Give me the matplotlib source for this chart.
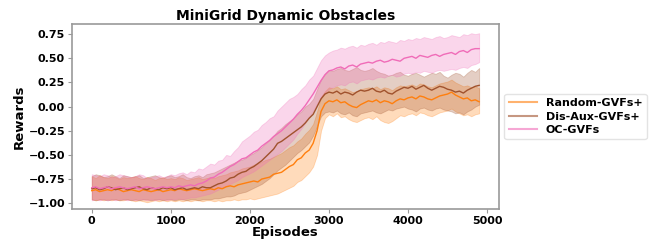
import numpy as np
import matplotlib
matplotlib.use("Agg")
import matplotlib.pyplot as plt
from matplotlib.lines import Line2D

episodes = list(range(0, 4901, 50))

rand_mean = [-0.87,-0.86,-0.88,-0.87,-0.86,-0.87,-0.85,-0.86,-0.88,-0.87,
             -0.86,-0.87,-0.88,-0.86,-0.87,-0.88,-0.87,-0.86,-0.88,-0.87,
             -0.86,-0.87,-0.85,-0.86,-0.87,-0.86,-0.85,-0.86,-0.87,-0.86,
             -0.85,-0.86,-0.84,-0.85,-0.83,-0.82,-0.83,-0.81,-0.80,-0.79,
             -0.78,-0.77,-0.78,-0.75,-0.74,-0.73,-0.70,-0.69,-0.68,-0.65,
             -0.62,-0.60,-0.55,-0.53,-0.48,-0.45,-0.38,-0.25,-0.05,0.03,
             0.06,0.05,0.07,0.04,0.05,0.02,0.00,-0.01,0.02,0.04,
             0.06,0.05,0.07,0.04,0.06,0.05,0.03,0.06,0.08,0.07,
             0.09,0.10,0.08,0.11,0.10,0.08,0.07,0.09,0.11,0.12,
             0.13,0.15,0.12,0.10,0.08,0.09,0.06,0.07,0.05]
rand_upper = [-0.72,-0.74,-0.71,-0.73,-0.74,-0.72,-0.73,-0.75,-0.73,-0.74,
              -0.73,-0.72,-0.74,-0.75,-0.73,-0.74,-0.76,-0.74,-0.73,-0.75,
              -0.74,-0.75,-0.73,-0.74,-0.76,-0.75,-0.74,-0.73,-0.75,-0.74,
              -0.73,-0.74,-0.72,-0.71,-0.70,-0.68,-0.67,-0.66,-0.64,-0.63,
              -0.62,-0.60,-0.59,-0.57,-0.55,-0.54,-0.52,-0.50,-0.48,-0.45,
              -0.42,-0.40,-0.36,-0.33,-0.28,-0.24,-0.18,-0.05,0.10,0.16,
              0.20,0.19,0.21,0.18,0.19,0.17,0.15,0.16,0.18,0.19,
              0.20,0.19,0.21,0.18,0.20,0.19,0.17,0.20,0.22,0.21,
              0.22,0.23,0.21,0.24,0.23,0.21,0.20,0.22,0.24,0.25,
              0.26,0.28,0.25,0.23,0.21,0.22,0.20,0.21,0.19]
rand_lower = [-0.96,-0.97,-0.96,-0.97,-0.96,-0.97,-0.96,-0.97,-0.97,-0.96,
              -0.97,-0.98,-0.97,-0.98,-0.99,-0.98,-0.97,-0.98,-0.97,-0.98,
              -0.97,-0.98,-0.97,-0.98,-0.97,-0.98,-0.97,-0.97,-0.98,-0.97,
              -0.97,-0.98,-0.97,-0.98,-0.97,-0.97,-0.96,-0.97,-0.96,-0.96,
              -0.95,-0.96,-0.95,-0.94,-0.93,-0.92,-0.91,-0.90,-0.88,-0.86,
              -0.84,-0.82,-0.78,-0.76,-0.72,-0.68,-0.62,-0.50,-0.25,-0.12,
              -0.08,-0.10,-0.07,-0.11,-0.10,-0.13,-0.15,-0.16,-0.14,-0.12,
              -0.11,-0.13,-0.10,-0.14,-0.16,-0.17,-0.15,-0.12,-0.09,-0.10,
              -0.08,-0.07,-0.09,-0.06,-0.07,-0.09,-0.10,-0.08,-0.06,-0.05,
              -0.04,-0.02,-0.05,-0.07,-0.09,-0.08,-0.10,-0.08,-0.07]

dis_mean = [-0.85,-0.84,-0.86,-0.85,-0.83,-0.84,-0.86,-0.85,-0.84,-0.86,
            -0.85,-0.84,-0.83,-0.85,-0.86,-0.84,-0.85,-0.86,-0.84,-0.85,
            -0.84,-0.86,-0.85,-0.84,-0.86,-0.85,-0.84,-0.85,-0.83,-0.84,
            -0.84,-0.82,-0.80,-0.79,-0.77,-0.74,-0.73,-0.70,-0.68,-0.67,
            -0.64,-0.62,-0.59,-0.56,-0.52,-0.48,-0.44,-0.38,-0.36,-0.33,
            -0.30,-0.27,-0.24,-0.21,-0.17,-0.12,-0.08,0.00,0.08,0.13,
            0.15,0.14,0.16,0.13,0.15,0.14,0.12,0.15,0.17,0.16,
            0.17,0.19,0.16,0.15,0.17,0.14,0.13,0.16,0.18,0.20,
            0.19,0.21,0.18,0.20,0.22,0.19,0.17,0.19,0.21,0.20,
            0.18,0.17,0.15,0.16,0.14,0.17,0.19,0.21,0.22]
dis_upper = [-0.72,-0.70,-0.71,-0.73,-0.72,-0.70,-0.72,-0.74,-0.71,-0.72,
             -0.73,-0.72,-0.71,-0.74,-0.73,-0.72,-0.71,-0.73,-0.74,-0.72,
             -0.71,-0.73,-0.72,-0.70,-0.73,-0.74,-0.72,-0.71,-0.73,-0.70,
             -0.69,-0.68,-0.66,-0.64,-0.62,-0.60,-0.58,-0.56,-0.55,-0.53,
             -0.50,-0.48,-0.45,-0.42,-0.38,-0.34,-0.30,-0.25,-0.22,-0.18,
             -0.15,-0.12,-0.08,-0.05,0.00,0.03,0.08,0.18,0.28,0.34,
             0.38,0.37,0.39,0.40,0.38,0.37,0.39,0.41,0.38,0.37,
             0.38,0.40,0.37,0.35,0.34,0.32,0.33,0.35,0.36,0.33,
             0.32,0.34,0.35,0.33,0.31,0.33,0.35,0.34,0.36,0.32,
             0.30,0.33,0.35,0.34,0.31,0.35,0.38,0.36,0.40]
dis_lower = [-0.96,-0.97,-0.96,-0.96,-0.97,-0.96,-0.96,-0.97,-0.96,-0.96,
             -0.97,-0.96,-0.97,-0.96,-0.96,-0.97,-0.96,-0.96,-0.97,-0.96,
             -0.96,-0.97,-0.96,-0.96,-0.97,-0.96,-0.96,-0.97,-0.96,-0.96,
             -0.96,-0.95,-0.95,-0.94,-0.93,-0.93,-0.92,-0.90,-0.89,-0.88,
             -0.86,-0.84,-0.82,-0.80,-0.77,-0.74,-0.70,-0.66,-0.63,-0.60,
             -0.56,-0.52,-0.48,-0.45,-0.41,-0.37,-0.30,-0.20,-0.10,-0.06,
             -0.05,-0.06,-0.04,-0.07,-0.08,-0.06,-0.09,-0.10,-0.07,-0.06,
             -0.05,-0.04,-0.06,-0.07,-0.05,-0.03,-0.04,-0.02,-0.01,0.00,
             -0.02,-0.03,-0.05,-0.02,-0.01,-0.03,-0.04,-0.02,-0.01,-0.03,
             -0.04,-0.05,-0.07,-0.06,-0.08,-0.05,-0.03,0.00,0.02]

oc_mean = [-0.84,-0.83,-0.85,-0.84,-0.83,-0.85,-0.84,-0.83,-0.84,-0.85,
           -0.84,-0.83,-0.85,-0.84,-0.83,-0.84,-0.85,-0.84,-0.83,-0.84,
           -0.83,-0.84,-0.82,-0.83,-0.82,-0.81,-0.82,-0.80,-0.79,-0.77,
           -0.74,-0.73,-0.70,-0.68,-0.65,-0.62,-0.60,-0.57,-0.54,-0.53,
           -0.50,-0.47,-0.45,-0.41,-0.38,-0.35,-0.31,-0.28,-0.25,-0.21,
           -0.17,-0.13,-0.08,-0.04,0.01,0.07,0.13,0.20,0.27,0.33,
           0.37,0.38,0.40,0.41,0.39,0.42,0.43,0.41,0.44,0.45,
           0.46,0.45,0.47,0.48,0.46,0.47,0.49,0.48,0.47,0.50,
           0.51,0.52,0.50,0.53,0.52,0.51,0.53,0.54,0.52,0.54,
           0.55,0.56,0.54,0.57,0.58,0.56,0.59,0.60,0.60]
oc_upper = [-0.70,-0.71,-0.72,-0.70,-0.71,-0.73,-0.72,-0.70,-0.71,-0.72,
            -0.73,-0.72,-0.70,-0.71,-0.74,-0.73,-0.72,-0.71,-0.73,-0.72,
            -0.70,-0.71,-0.69,-0.68,-0.70,-0.67,-0.68,-0.64,-0.65,-0.62,
            -0.59,-0.60,-0.56,-0.55,-0.50,-0.51,-0.46,-0.42,-0.36,-0.33,
            -0.30,-0.26,-0.24,-0.19,-0.16,-0.12,-0.10,-0.04,0.00,0.04,
            0.08,0.10,0.13,0.18,0.22,0.28,0.32,0.40,0.48,0.53,
            0.56,0.58,0.59,0.61,0.60,0.62,0.63,0.61,0.64,0.63,
            0.65,0.66,0.64,0.67,0.66,0.68,0.67,0.66,0.69,0.68,
            0.70,0.69,0.71,0.70,0.72,0.71,0.70,0.72,0.73,0.71,
            0.72,0.74,0.73,0.72,0.75,0.74,0.76,0.75,0.76]
oc_lower = [-0.97,-0.96,-0.97,-0.96,-0.97,-0.96,-0.97,-0.96,-0.96,-0.97,
            -0.96,-0.97,-0.96,-0.96,-0.97,-0.96,-0.97,-0.96,-0.96,-0.97,
            -0.96,-0.96,-0.95,-0.96,-0.95,-0.94,-0.94,-0.93,-0.92,-0.91,
            -0.90,-0.88,-0.86,-0.84,-0.82,-0.80,-0.78,-0.76,-0.73,-0.71,
            -0.69,-0.67,-0.64,-0.61,-0.58,-0.55,-0.52,-0.49,-0.46,-0.42,
            -0.38,-0.34,-0.28,-0.23,-0.17,-0.11,-0.04,0.03,0.10,0.15,
            0.18,0.20,0.22,0.23,0.22,0.25,0.26,0.24,0.27,0.28,
            0.29,0.28,0.30,0.31,0.30,0.32,0.33,0.31,0.32,0.34,
            0.35,0.34,0.36,0.35,0.37,0.36,0.35,0.37,0.38,0.37,
            0.38,0.39,0.38,0.40,0.41,0.40,0.43,0.44,0.46]

labels = ["Random-GVFs+", "Dis-Aux-GVFs+", "OC-GVFs"]
colors = ["#ff7f0e", "#a0522d", "#f06cb8"]

plt.rcParams['font.family'] = ['DejaVu Sans']
plt.rcParams['font.weight'] = 'bold'

fig = plt.figure(figsize=(6.64, 2.49), dpi=100)
ax = fig.add_axes([0.1084, 0.1606, 0.643, 0.743])

series = [(rand_mean, rand_lower, rand_upper),
          (dis_mean, dis_lower, dis_upper),
          (oc_mean, oc_lower, oc_upper)]
x = np.array(episodes)
for (m, lo, hi), c in zip(series, colors):
    ax.fill_between(x, lo, hi, color=c, alpha=0.28, linewidth=0.6, edgecolor=c)
    ax.plot(x, m, color=c, linewidth=1.0)

ax.set_title("MiniGrid Dynamic Obstacles", fontsize=10, fontweight='bold', pad=3)
ax.set_xlabel("Episodes", fontsize=9.5, fontweight='bold', labelpad=0)
ax.set_ylabel("Rewards", fontsize=9.5, fontweight='bold', labelpad=2)
ax.set_xticks([0, 1000, 2000, 3000, 4000, 5000])
ax.set_yticks([-1.0, -0.75, -0.5, -0.25, 0.0, 0.25, 0.5, 0.75])
ax.set_xlim(-250, 5150)
ax.set_ylim(-1.06, 0.855)
for lab in ax.get_xticklabels() + ax.get_yticklabels():
    lab.set_fontweight('bold')
ax.tick_params(labelsize=8, color='#999999', length=3, width=0.8, pad=2)
for s in ax.spines.values():
    s.set_color('#999999')
    s.set_linewidth(1.2)

handles = [Line2D([0], [0], color=c, linewidth=1.5, alpha=0.6) for c in colors]
leg = ax.legend(handles, labels, loc='center left', bbox_to_anchor=(1.0, 0.5),
                fontsize=8, prop={'weight': 'bold', 'size': 8}, frameon=True,
                handlelength=2.5, labelspacing=0.3)
leg.get_frame().set_edgecolor('#dddddd')

fig.savefig("out.png", dpi=100)
